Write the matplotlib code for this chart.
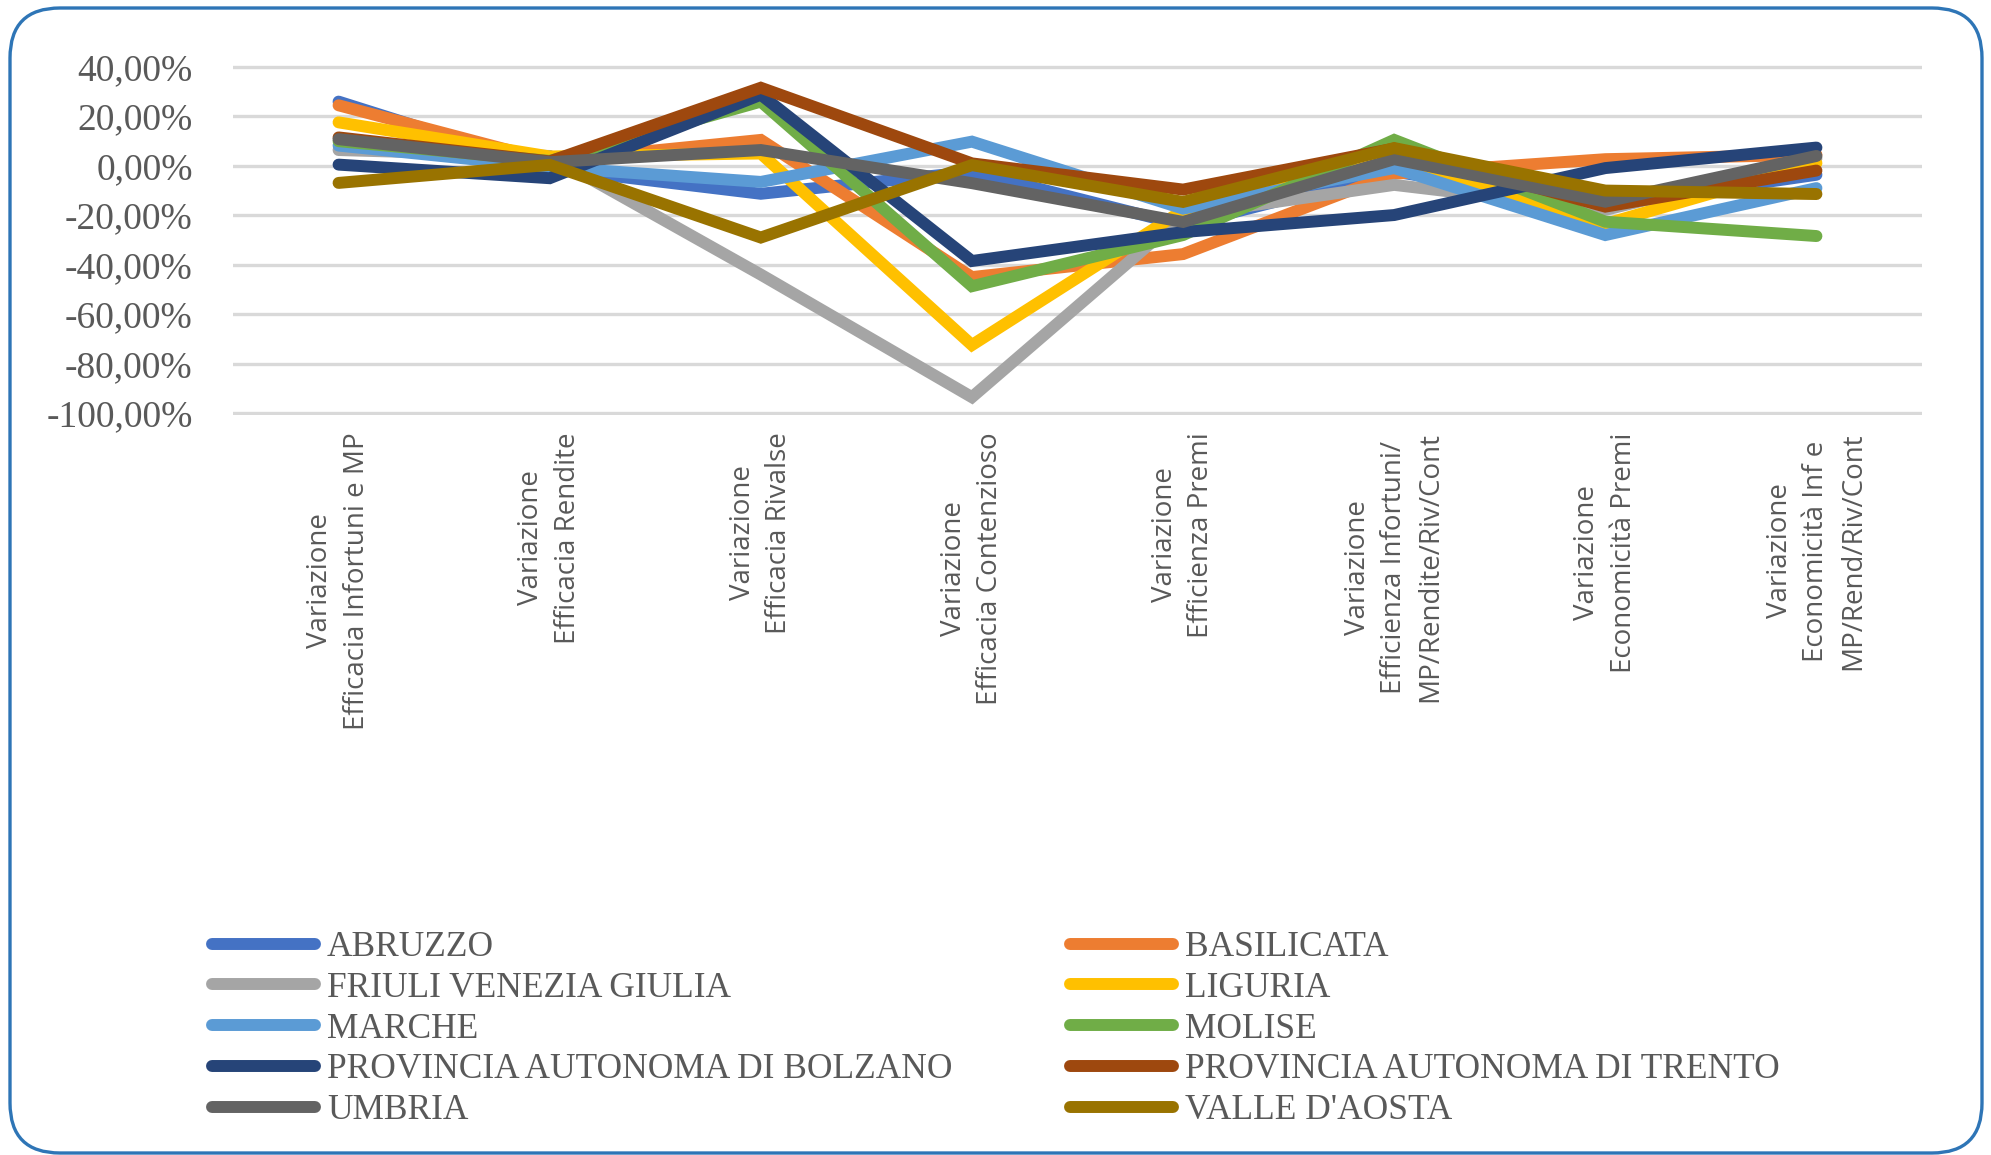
import numpy as np
import matplotlib
matplotlib.use('Agg')
import matplotlib.pyplot as plt
from matplotlib.patches import FancyBboxPatch
from matplotlib.ticker import FuncFormatter

categories = [
    "Variazione\nEfficacia Infortuni e MP",
    "Variazione\nEfficacia Rendite",
    "Variazione\nEfficacia Rivalse",
    "Variazione\nEfficacia Contenzioso",
    "Variazione\nEfficienza Premi",
    "Variazione\nEfficienza Infortuni/\nMP/Rendite/Riv/Cont",
    "Variazione\nEconomicità Premi",
    "Variazione\nEconomicità Inf e\nMP/Rend/Riv/Cont",
]

series_names = ["ABRUZZO", "BASILICATA", "FRIULI VENEZIA GIULIA", "LIGURIA", "MARCHE",
                "MOLISE", "PROVINCIA AUTONOMA DI BOLZANO", "PROVINCIA AUTONOMA DI TRENTO",
                "UMBRIA", "VALLE D'AOSTA"]

# values in percent
abruzzo    = [26.0, -1.0, -11.3, -2.4, -24.0, -2.3, -16.0, -3.6]
basilicata = [24.5, 2.0, 10.5, -45.0, -35.7, -3.2, 2.7, 4.5]
fvg        = [6.4, 4.0, -44.0, -93.6, -20.0, -7.7, -17.8, 3.0]
liguria    = [17.6, 3.8, 5.0, -72.5, -18.0, 2.0, -23.5, 1.1]
marche     = [8.2, -0.5, -6.5, 9.8, -17.3, -0.9, -28.0, -9.0]
molise     = [10.0, 2.0, 26.0, -48.7, -28.0, 10.5, -22.6, -28.4]
bolzano    = [0.5, -5.0, 28.8, -38.5, -26.8, -19.9, -0.9, 7.4]
trento     = [11.5, 1.8, 31.6, 1.0, -9.6, 7.0, -16.5, -1.9]
umbria     = [10.8, 1.5, 6.4, -7.0, -22.7, 2.7, -14.5, 4.0]
valle      = [-6.9, 0.4, -29.0, 0.3, -14.6, 7.2, -10.0, -11.4]

series_values = [abruzzo, basilicata, fvg, liguria, marche, molise, bolzano, trento, umbria, valle]
colors = ["#4472C4", "#ED7D31", "#A5A5A5", "#FFC000", "#5B9BD5",
          "#70AD47", "#264478", "#9E480E", "#636363", "#997300"]

W, H = 1991, 1155
fig = plt.figure(figsize=(W / 100, H / 100), dpi=100)

ppu = (413 - 67) / 1.4
ext = 0.01
top_px = 67 - ext * ppu
bot_px = 413 + ext * ppu
ax = fig.add_axes([233 / W, 1 - bot_px / H, (1922 - 233) / W, (bot_px - top_px) / H])

x = np.arange(len(categories))
for name, col, vals in zip(series_names, colors, series_values):
    ax.plot(x, np.array(vals) / 100.0, color=col, lw=8.6, solid_capstyle='round',
            solid_joinstyle='miter', label=name, clip_on=False)


def pct(v, p):
    if abs(v) < 1e-9:
        v = 0.0
    return f"{v*100:.2f}".replace('.', ',') + '%'


ax.set_xlim(-0.5, len(categories) - 0.5)
ax.set_ylim(-1.0 - ext, 0.4 + ext)
ax.set_yticks(np.round(np.arange(-1.0, 0.41, 0.2), 2))
ax.yaxis.set_major_formatter(FuncFormatter(pct))
ax.yaxis.grid(True, color='#D9D9D9', lw=2.4)
ax.set_axisbelow(True)
for s in ax.spines.values():
    s.set_visible(False)
ax.tick_params(axis='y', length=0, pad=29, labelsize=27, labelcolor='#595959')
for t in ax.get_yticklabels():
    t.set_fontfamily('Liberation Serif')
ax.set_xticks(x)
ax.set_xticklabels(categories, rotation=90, ha='center', va='top', multialignment='center',
                   fontfamily='Open Sans', fontsize=20, color='#595959', linespacing=1.4)
ax.tick_params(axis='x', length=0, pad=12)

h, l = ax.get_legend_handles_labels()
common = dict(loc='upper left', frameon=False, prop=dict(family='Liberation Serif', size=25.5),
              labelcolor='#595959', handlelength=2.9, handletextpad=0.34,
              labelspacing=0.22, borderpad=0, borderaxespad=0)
fig.legend(h[0::2], l[0::2], bbox_to_anchor=(212 / W, 1 - 931 / H), **common)
fig.legend(h[1::2], l[1::2], bbox_to_anchor=(1070 / W, 1 - 931 / H), **common)

frame = FancyBboxPatch((0.10, 0.02), 19.72, 11.45, boxstyle='round,pad=0,rounding_size=0.5',
                       transform=fig.dpi_scale_trans, fill=False, ec='#2E75B6', lw=2.4)
fig.add_artist(frame)

fig.savefig('out.png', dpi=100)
